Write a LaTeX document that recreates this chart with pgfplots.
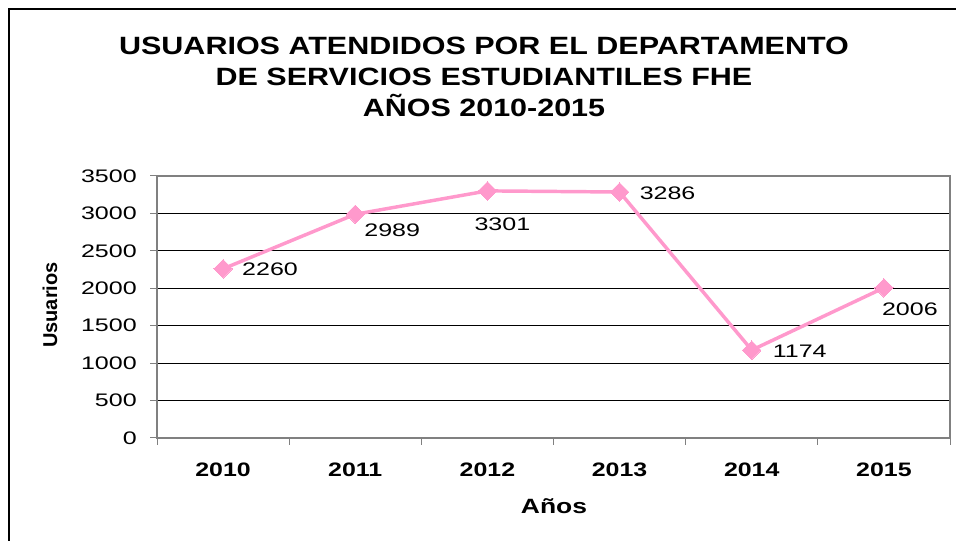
\documentclass[border=0pt]{standalone}
\usepackage{fontspec}
\setmainfont{Liberation Sans}
\newfontfamily\titlefont{Liberation Sans}[FakeStretch=1.22]
\newfontfamily\tickfont{Liberation Sans}[FakeStretch=1.38]
\newfontfamily\labfont{Liberation Sans}[FakeStretch=1.28]
\usepackage{pgfplots}
\usepackage{pgfplotstable}
\pgfplotsset{compat=1.18}
\definecolor{pinkline}{HTML}{FF99CC}
\definecolor{axgray}{HTML}{808080}
\pgfplotstableread{
x y dx dy
0 2260 47 0
1 2989 37 -16
2 3301 15 -33
3 3286 48 -1
4 1174 48 -1
5 2006 26 -21
}\data
\begin{document}
\begin{tikzpicture}[x=0.75pt,y=0.75pt]
\useasboundingbox (0,0) rectangle (956,541);
\clip (0,0) rectangle (956,541);
\draw[line width=1.6pt,black] (9,-20) -- (9,532) -- (980,532);
\node[align=center,font=\titlefont\bfseries\fontsize{18.75}{23.25}\selectfont,inner sep=0pt] at (484,464)
 {USUARIOS ATENDIDOS POR EL DEPARTAMENTO\\DE SERVICIOS ESTUDIANTILES FHE\\AÑOS 2010-2015};
\begin{axis}[
  at={(117.75pt,77.25pt)}, anchor=south west,
  width=594.75pt, height=196.5pt, scale only axis,
  xmin=-0.5, xmax=5.5, ymin=0, ymax=3500,
  xtick={0,1,2,3,4,5},
  xticklabels={2010,2011,2012,2013,2014,2015},
  minor xtick={-0.5,0.5,1.5,2.5,3.5,4.5,5.5},
  ytick={0,500,1000,1500,2000,2500,3000,3500},
  yticklabels={0,500,1000,1500,2000,2500,3000,3500},
  tick align=outside,
  x tick style={draw=none},
  minor x tick style={draw=axgray, line width=0.75pt},
  minor tick length=5.25pt,
  y tick style={draw=axgray, line width=0.75pt},
  major tick length=5.25pt,
  xtick pos=bottom, ytick pos=left,
  ymajorgrids,
  grid style={black, line width=0.75pt},
  axis line style={draw=axgray, line width=1.1pt},
  xticklabel style={font=\labfont\bfseries\fontsize{14.6}{16}\selectfont, anchor=base, inner sep=0pt, yshift=-24pt},
  yticklabel style={font=\tickfont\fontsize{13.6}{16}\selectfont, anchor=east, inner sep=0pt, xshift=-9.75pt},
  clip=false,
]
\addplot[pinkline, line width=2.6pt, mark=square*, mark size=4.9pt,
  mark options={rotate=45, fill=pinkline, draw=pinkline, line width=0pt},
  nodes near coords, point meta=explicit symbolic,
  visualization depends on={\thisrow{dx}\as\dx},
  visualization depends on={\thisrow{dy}\as\dy},
  nodes near coords style={anchor=center, inner sep=0pt, text=black,
    font=\tickfont\fontsize{13.6}{16}\selectfont,
    xshift={\dx*0.75pt}, yshift={\dy*0.75pt}},
] table[x=x, y=y, meta=y] {\data};
\end{axis}
\node[font=\bfseries\fontsize{15}{16}\selectfont, rotate=90, inner sep=0pt] at (50,236) {Usuarios};
\node[font=\labfont\bfseries\fontsize{15.5}{16}\selectfont, anchor=base, inner sep=0pt] at (554,27) {Años};
\end{tikzpicture}
\end{document}
